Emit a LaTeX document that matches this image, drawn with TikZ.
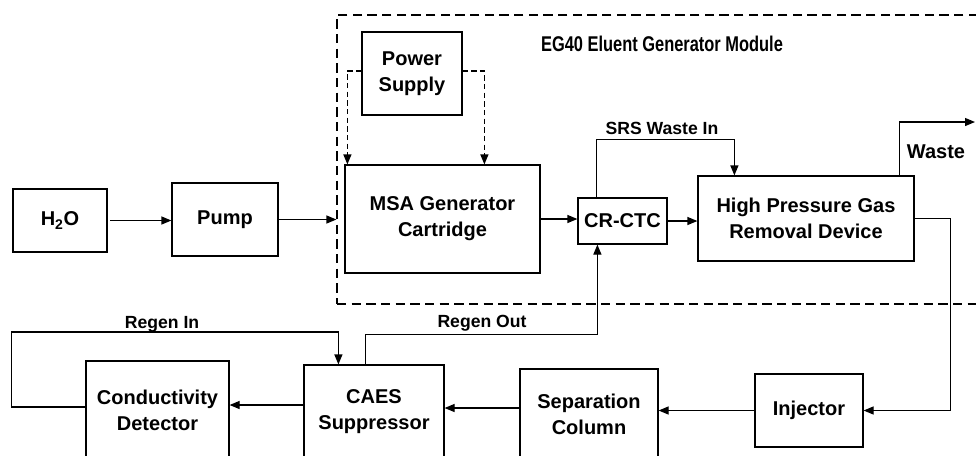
\documentclass[tikz,border=0pt]{standalone}
\usepackage{fontspec}
\setmainfont{Liberation Sans}
\newfontfamily\titlefont[FakeStretch=0.77]{Liberation Sans}
\usetikzlibrary{arrows.meta,calc}

\begin{document}
\begin{tikzpicture}[x=0.75pt,y=-0.75pt,
    blk/.style={draw, line width=0.9pt, align=center, inner sep=2pt,
      font=\fontsize{15}{19.5}\selectfont\bfseries},
    sz/.style 2 args={minimum width=#1*0.75pt, minimum height=#2*0.75pt},
    lbl/.style={inner sep=0pt, font=\fontsize{13.2}{16}\selectfont\bfseries},
    flow/.style={line width=0.9pt, -{Triangle[length=7.5pt,width=6pt]}},
    ctrl/.style={flow, dash pattern=on 4pt off 2.5pt}]
  \useasboundingbox (0,0) rectangle (976,455);
  \node[draw, line width=0.9pt, dash pattern=on 7pt off 4pt, sz={660}{289}] (eg) at (667,159.5) {};
  \node[font=\titlefont\fontsize{16}{18}\selectfont\bfseries] (egtitle) at (662,44) {EG40 Eluent Generator Module};
  \node[blk, sz={94}{63}] (h2o) at (60,220.5) {H\textsubscript{2}O};
  \node[blk, sz={106}{73}] (pump) at (225,219.5) {Pump};
  \node[blk, sz={195}{108}] (msa) at (442.5,219) {MSA Generator\\Cartridge};
  \node[blk, sz={100}{83}] (pwr) at (412,73.5) {Power\\Supply};
  \node[blk, sz={89}{46}] (crctc) at (622.5,221) {CR-CTC};
  \node[blk, sz={216}{85}] (hpgr) at (806,218.5) {High Pressure Gas\\Removal Device};
  \node[blk, sz={108}{73}] (inj) at (809,410.5) {Injector};
  \node[blk, sz={138}{90}] (sep) at (589,414) {Separation\\Column};
  \node[blk, sz={140}{94}] (caes) at (374,412) {CAES\\Suppressor};
  \node[blk, sz={143}{98}] (cond) at (157.5,410) {Conductivity\\Detector};
  \coordinate (wasteout) at (975,122);
  \coordinate (sepout) at ($(sep.west)+(0,-6)$);
  \coordinate (caesout) at ($(caes.west)+(0,-7)$);
  \draw[flow, shorten <=2pt] (h2o.east) -- (h2o.east -| pump.west);
  \draw[flow] (pump.east) -- (pump.east -| eg.west);
  \draw[flow] (msa.east) -- (msa.east -| crctc.west);
  \draw[flow] (crctc.east) -- (crctc.east -| hpgr.west);
  \draw[ctrl] ($(pwr.west)+(0,-2.5)$) -| ($(msa.north west)+(3,0)$);
  \draw[ctrl] ($(pwr.east)+(0,-2.5)$) -| ($(msa.north west)+(140,0)$);
  \draw[flow] ($(crctc.north west)+(19,0)$) -- ++(0,-58) -| ($(hpgr.north west)+(37,0)$);
  \draw[flow] ($(hpgr.north west)+(202,0)$) |- (wasteout);
  \draw[flow] (hpgr.east) -- ++(36,0) |- (inj.east);
  \draw[flow] (inj.west) -- (inj.west -| sep.east);
  \draw[flow] (sepout) -- (sepout -| caes.east);
  \draw[flow] (caesout) -- (caesout -| cond.east);
  \draw[flow] ($(cond.west)+(0,-3)$) -- ++(-74,0) -- ++(0,-75) -| ($(caes.north west)+(35,0)$);
  \draw[flow] ($(caes.north west)+(62,0)$) -- ++(0,-30) -| ($(crctc.south west)+(20,0)$);
  \node[lbl] (srslbl) at (662,128) {SRS Waste In};
  \node[lbl, font=\fontsize{15}{18}\selectfont\bfseries] (wastelbl) at (936,152) {Waste};
  \node[lbl] (regenin) at (162,324) {Regen In};
  \node[lbl] (regenout) at (482,323) {Regen Out};
\end{tikzpicture}
\end{document}
